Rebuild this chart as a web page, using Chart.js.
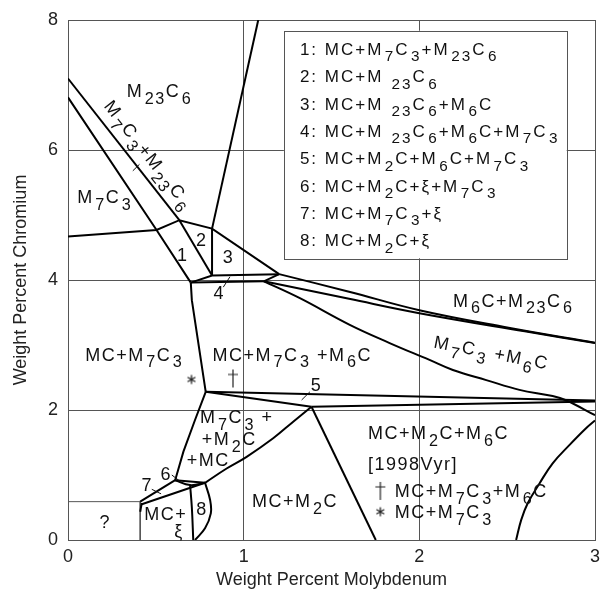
<!DOCTYPE html>
<html>
<head>
<meta charset="utf-8">
<script src="https://cdn.jsdelivr.net/npm/chart.js@4.4.0/dist/chart.umd.min.js"></script>
<style>
html, body { margin: 0; padding: 0; background: #fff; }
canvas { display: block; }
</style>
</head>
<body>
<canvas id="grafico" width="602" height="601"></canvas>
<script>
// tick labels
var xTicks = [0, 1, 2, 3];
var yTicks = [0, 2, 4, 6, 8];

// phase boundaries, [Mo wt%, Cr wt%]
var lineA = [[0, 7.10], [0.634, 4.92]];
var lineB = [[0, 6.81], [0.504, 4.77], [0.699, 3.96]];
var lineC = [[0.634, 4.92], [0.82, 4.07]];
var topEdge = [[0, 4.67], [0.504, 4.77], [0.634, 4.92], [0.82, 4.79], [1.202, 4.09]];
var steepUp = [[0.82, 4.79], [1.083, 8]];
var vert2 = [[0.82, 4.79], [0.82, 4.07]];
var sliverTop = [[0.699, 3.96], [0.82, 4.07], [1.202, 4.09]];
var sliverBot = [[0.699, 3.96], [1.115, 3.98], [1.202, 4.09]];
var m23Low = [[1.202, 4.09], [1.6, 3.82], [2.0, 3.535], [2.5, 3.27], [3.0, 3.035]];
var m6Up = [[1.115, 3.98], [1.6, 3.71], [2.0, 3.49], [2.6, 3.21], [3.0, 3.03]];
var m6Low = [[1.115, 3.98], [1.32, 3.72], [1.604, 3.31], [1.831, 3.03], [2.058, 2.77], [2.191, 2.615],
             [2.381, 2.46], [2.57, 2.31], [2.759, 2.215], [2.835, 2.15], [3.0, 1.92]];
var band5Up = [[0.784, 2.28], [3.0, 2.145]];
var band5Left = [[0.784, 2.28], [1.386, 2.05]];
var band5Low = [[1.386, 2.05], [3.0, 2.13]];
var m2Right = [[1.386, 2.05], [1.752, 0]];
var m2Curve = [[1.386, 2.05], [1.282, 1.82], [1.168, 1.565], [1.017, 1.28], [0.903, 1.10], [0.78, 0.88]];
var m7Vert = [[0.699, 3.96], [0.705, 3.69], [0.784, 2.28]];
var m7Diag = [[0.784, 2.28], [0.723, 1.846], [0.657, 1.36], [0.61, 0.92]];
var six1 = [[0.61, 0.92], [0.78, 0.88]];
var six2 = [[0.61, 0.92], [0.695, 0.845], [0.78, 0.88]];
var seven1 = [[0.411, 0.59], [0.61, 0.92]];
var seven2 = [[0.42, 0.55], [0.78, 0.88]];
var tail = [[0.42, 0.57], [0.411, 0.435]];
var xiVert = [[0.695, 0.845], [0.705, 0.5], [0.713, 0]];
var eightArc = [[0.78, 0.88], [0.809, 0.615], [0.813, 0.41], [0.78, 0.18], [0.723, 0]];
var rightArc = [[3.0, 1.84], [2.949, 1.72], [2.854, 1.46], [2.759, 1.18], [2.684, 0.87], [2.617, 0.565], [2.58, 0.31], [2.551, 0]];
var unknownBox = [[0, 0.59], [0.411, 0.59], [0.411, 0]];

// 1998Vyr experimental points
var daggerPts = [[0.939, 2.485]];
var starPts = [[0.703, 2.47]];

var straightLines = [lineA, lineB, lineC, topEdge, steepUp, vert2, sliverTop, sliverBot,
                     band5Up, band5Left, band5Low, m2Right, m7Diag, six1, seven1, seven2, tail, m7Vert];
var curvedLines = [m23Low, m6Up, m6Low, m2Curve, six2, xiVert, eightArc, rightArc];

var legendRows = [
  '1: MC+M_{7}C_{3}+M_{23}C_{6}',
  '2: MC+M _{23}C_{6}',
  '3: MC+M _{23}C_{6}+M_{6}C',
  '4: MC+M _{23}C_{6}+M_{6}C+M_{7}C_{3}',
  '5: MC+M_{2}C+M_{6}C+M_{7}C_{3}',
  '6: MC+M_{2}C+ξ+M_{7}C_{3}',
  '7: MC+M_{7}C_{3}+ξ',
  '8: MC+M_{2}C+ξ'
];

// region labels, placed in data units
var labels = [
  {t: 'M_{23}C_{6}', x: 0.335, y: 6.82},
  {t: 'M_{7}C_{3}+M_{23}C_{6}', x: 0.462, y: 5.93, c: true, rot: 52},
  {t: 'M_{7}C_{3}', x: 0.053, y: 5.18},
  {t: '1', x: 0.653, y: 4.385, c: true},
  {t: '2', x: 0.761, y: 4.63, c: true},
  {t: '3', x: 0.913, y: 4.36, c: true},
  {t: '4', x: 0.861, y: 3.80, c: true},
  {t: 'M_{6}C+M_{23}C_{6}', x: 2.191, y: 3.59},
  {t: 'M_{7}C_{3} +M_{6}C', x: 2.411, y: 2.89, c: true, rot: 11},
  {t: 'MC+M_{7}C_{3}', x: 0.098, y: 2.76},
  {t: 'MC+M_{7}C_{3} +M_{6}C', x: 0.822, y: 2.76},
  {t: '5', x: 1.415, y: 2.385, c: true},
  {t: 'M_{7}C_{3} +', x: 0.752, y: 1.795},
  {t: '+M_{2}C', x: 0.761, y: 1.46},
  {t: '+MC', x: 0.676, y: 1.14},
  {t: '6', x: 0.559, y: 1.03, c: true},
  {t: '7', x: 0.451, y: 0.86, c: true},
  {t: '?', x: 0.212, y: 0.28, c: true},
  {t: 'MC+', x: 0.434, y: 0.31},
  {t: 'ξ', x: 0.632, y: 0.14, c: true},
  {t: '8', x: 0.763, y: 0.49, c: true},
  {t: 'MC+M_{2}C', x: 1.047, y: 0.51},
  {t: 'MC+M_{2}C+M_{6}C', x: 1.708, y: 1.55},
  {t: '[1998Vyr]', x: 1.708, y: 1.08},
  {t: 'MC+M_{7}C_{3}+M_{6}C', x: 1.86, y: 0.666},
  {t: 'MC+M_{7}C_{3}', x: 1.86, y: 0.334}
];
var pointers = [
  [[0.369, 5.68], [0.407, 5.78]],
  [[0.884, 3.89], [0.922, 4.05]],
  [[1.33, 2.154], [1.377, 2.28]],
  [[0.591, 1.0], [0.644, 0.89]],
  [[0.477, 0.78], [0.53, 0.71]]
];
var legendBox = {x1: 1.229, y1: 7.835, x2: 2.839, y2: 4.334};

var FONT = '"Liberation Sans", Arial, sans-serif';

function makeDagger() {
  var c = document.createElement('canvas');
  c.width = 12; c.height = 20;
  var g = c.getContext('2d');
  g.strokeStyle = '#222'; g.lineWidth = 1.2;
  g.beginPath();
  g.moveTo(6, 1); g.lineTo(6, 19);
  g.moveTo(1, 6); g.lineTo(11, 6);
  g.stroke();
  return c;
}
function makeStar() {
  var c = document.createElement('canvas');
  c.width = 12; c.height = 12;
  var g = c.getContext('2d');
  g.strokeStyle = '#222'; g.lineWidth = 1.3;
  g.beginPath();
  for (var k = 0; k < 3; k++) {
    var a = Math.PI / 2 + k * Math.PI / 3;
    g.moveTo(6 - 4.5 * Math.cos(a), 6 - 4.5 * Math.sin(a));
    g.lineTo(6 + 4.5 * Math.cos(a), 6 + 4.5 * Math.sin(a));
  }
  g.stroke();
  return c;
}
var daggerImg = makeDagger();
var starImg = makeStar();

function parts(txt) {
  var out = [];
  txt.replace(/_\{([^}]*)\}|([^_]+)/g, function (m, sub, norm) {
    if (sub !== undefined) out.push({t: sub, s: true});
    else out.push({t: norm, s: false});
    return m;
  });
  return out;
}
function richWidth(ctx, txt, size) {
  var w = 0;
  parts(txt).forEach(function (p) {
    ctx.font = (p.s ? size * 0.9 : size) + 'px ' + FONT;
    w += ctx.measureText(p.t).width + (p.s ? 1.5 : 0);
  });
  return w;
}
function drawRich(ctx, txt, x, y, size) {
  parts(txt).forEach(function (p) {
    if (p.s) {
      x += 1.5;
      ctx.font = (size * 0.9) + 'px ' + FONT;
      ctx.fillText(p.t, x, y + size * 0.38);
    } else {
      ctx.font = size + 'px ' + FONT;
      ctx.fillText(p.t, x, y);
    }
    x += ctx.measureText(p.t).width;
  });
}

var textPlugin = {
  id: 'textos',
  afterDatasetsDraw: function (chart) {
    var ctx = chart.ctx;
    var sx = chart.scales.x, sy = chart.scales.y;
    ctx.save();
    ctx.fillStyle = '#111';
    ctx.textBaseline = 'alphabetic';
    ctx.textAlign = 'left';
    ctx.letterSpacing = '1.5px';

    labels.forEach(function (l) {
      var px = sx.getPixelForValue(l.x), py = sy.getPixelForValue(l.y);
      var size = 18;
      if (l.c) {
        var w = richWidth(ctx, l.t, size);
        ctx.save();
        ctx.translate(px, py);
        ctx.rotate((l.rot || 0) * Math.PI / 180);
        drawRich(ctx, l.t, -w / 2, size * 0.36, size);
        ctx.restore();
      } else {
        drawRich(ctx, l.t, px, py, size);
      }
    });

    ctx.strokeStyle = '#111';
    ctx.lineWidth = 1;
    pointers.forEach(function (p) {
      ctx.beginPath();
      ctx.moveTo(sx.getPixelForValue(p[0][0]), sy.getPixelForValue(p[0][1]));
      ctx.lineTo(sx.getPixelForValue(p[1][0]), sy.getPixelForValue(p[1][1]));
      ctx.stroke();
    });

    // key symbols next to the 1998Vyr notes
    ctx.drawImage(daggerImg, sx.getPixelForValue(1.778) - 6, sy.getPixelForValue(0.755) - 10);
    ctx.drawImage(starImg, sx.getPixelForValue(1.778) - 6, sy.getPixelForValue(0.435) - 6);

    // legend box
    var bx = sx.getPixelForValue(legendBox.x1), by = sy.getPixelForValue(legendBox.y1);
    var bw = sx.getPixelForValue(legendBox.x2) - bx, bh = sy.getPixelForValue(legendBox.y2) - by;
    ctx.fillStyle = '#fff';
    ctx.fillRect(bx, by, bw, bh);
    ctx.strokeStyle = '#555';
    ctx.strokeRect(Math.round(bx) + 0.5, Math.round(by) + 0.5, Math.round(bw), Math.round(bh));
    ctx.fillStyle = '#111';
    ctx.letterSpacing = '2px';
    legendRows.forEach(function (r, i) {
      drawRich(ctx, r, bx + 16, by + 24.3 + i * 27.3, 17);
    });
    ctx.restore();
  }
};

var datasets = [];
straightLines.forEach(function (p) {
  datasets.push({data: p.map(function (v) { return {x: v[0], y: v[1]}; }),
    showLine: true, borderColor: '#000', borderWidth: 2, pointRadius: 0, tension: 0});
});
curvedLines.forEach(function (p) {
  datasets.push({data: p.map(function (v) { return {x: v[0], y: v[1]}; }),
    showLine: true, borderColor: '#000', borderWidth: 2, pointRadius: 0, tension: 0.4});
});
datasets.push({data: unknownBox.map(function (v) { return {x: v[0], y: v[1]}; }),
  showLine: true, borderColor: '#555', borderWidth: 1, pointRadius: 0, tension: 0});
datasets.push({data: daggerPts.map(function (v) { return {x: v[0], y: v[1]}; }),
  showLine: false, pointStyle: daggerImg, pointRadius: 6});
datasets.push({data: starPts.map(function (v) { return {x: v[0], y: v[1]}; }),
  showLine: false, pointStyle: starImg, pointRadius: 6});

new Chart(document.getElementById('grafico'), {
  type: 'scatter',
  data: { datasets: datasets },
  options: {
    responsive: false,
    animation: false,
    layout: { padding: { top: 20, right: 6, bottom: 0, left: 0 } },
    plugins: { legend: { display: false }, tooltip: { enabled: false } },
    scales: {
      x: {
        min: 0, max: 3,
        afterBuildTicks: function (s) { s.ticks = xTicks.map(function (v) { return {value: v}; }); },
        afterFit: function (s) { s.height = 61; s.paddingLeft = 0; s.paddingRight = 0; },
        ticks: { color: '#222', font: { family: FONT, size: 18 }, padding: 6, maxRotation: 0 },
        grid: { color: '#555', lineWidth: 1, drawTicks: false },
        border: { color: '#555', width: 1 },
        title: { display: true, text: 'Weight Percent Molybdenum', color: '#222',
                 font: { family: FONT, size: 18 }, padding: { top: 0, bottom: 10 } }
      },
      y: {
        min: 0, max: 8,
        afterBuildTicks: function (s) { s.ticks = yTicks.map(function (v) { return {value: v}; }); },
        afterFit: function (s) { s.width = 68; s.paddingTop = 0; s.paddingBottom = 0; },
        ticks: { color: '#222', font: { family: FONT, size: 18 }, padding: 10 },
        grid: { color: '#555', lineWidth: 1, drawTicks: false },
        border: { color: '#555', width: 1 },
        title: { display: true, text: 'Weight Percent Chromium', color: '#222',
                 font: { family: FONT, size: 18 }, padding: { top: 10, bottom: 0 } }
      }
    }
  },
  plugins: [textPlugin]
});
</script>
</body>
</html>
